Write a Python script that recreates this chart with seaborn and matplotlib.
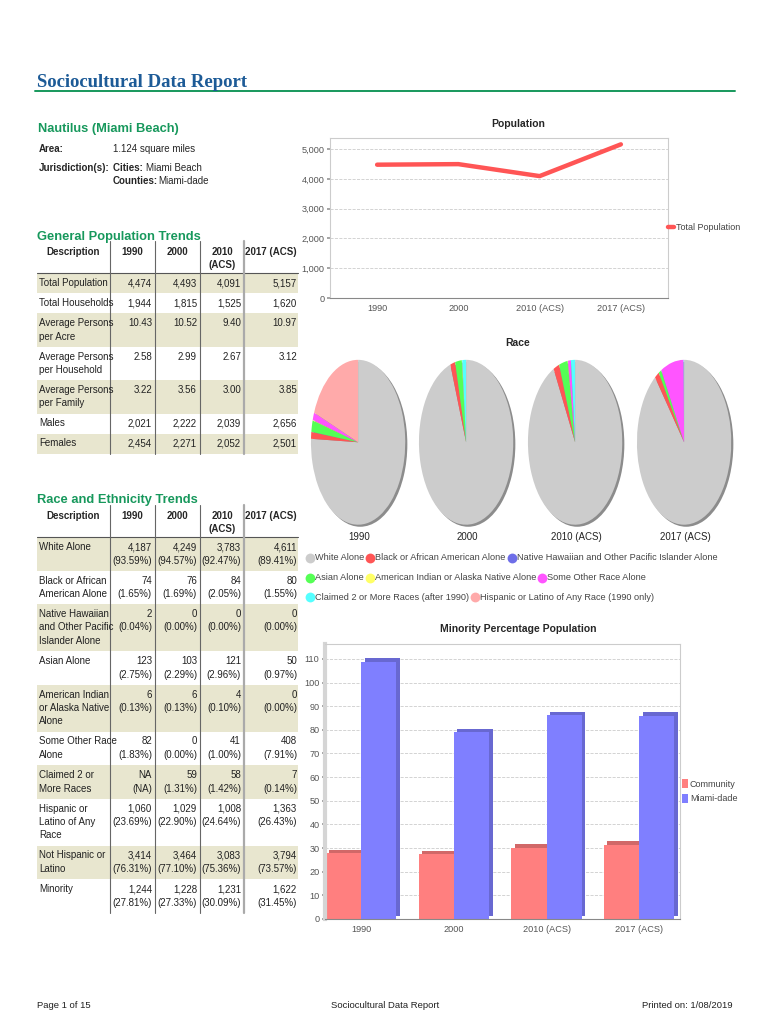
import matplotlib
matplotlib.use('Agg')
import matplotlib.pyplot as plt
import matplotlib.transforms as mtransforms
from matplotlib.patches import Rectangle
from matplotlib.colors import to_rgb
import seaborn as sns
import pandas as pd

sns.set_theme(style='white')
plt.rcParams['font.family'] = ['Liberation Sans', 'DejaVu Sans']

# ---- data ----
years = ["1990", "2000", "2010 (ACS)", "2017 (ACS)"]
table_years = ["1990", "2000", "2010\n(ACS)", "2017 (ACS)"]

gen_labels = ["Total Population", "Total Households", "Average Persons\nper Acre",
              "Average Persons\nper Household", "Average Persons\nper Family", "Males", "Females"]
total_population = [4474, 4493, 4091, 5157]
total_households = [1944, 1815, 1525, 1620]
persons_per_acre = [10.43, 10.52, 9.40, 10.97]
persons_per_household = [2.58, 2.99, 2.67, 3.12]
persons_per_family = [3.22, 3.56, 3.00, 3.85]
males = [2021, 2222, 2039, 2656]
females = [2454, 2271, 2052, 2501]

race_labels = ["White Alone", "Black or African\nAmerican Alone",
               "Native Hawaiian\nand Other Pacific\nIslander Alone", "Asian Alone",
               "American Indian\nor Alaska Native\nAlone", "Some Other Race\nAlone",
               "Claimed 2 or\nMore Races", "Hispanic or\nLatino of Any\nRace",
               "Not Hispanic or\nLatino", "Minority"]
race_counts = [
    [4187, 4249, 3783, 4611],
    [74, 76, 84, 80],
    [2, 0, 0, 0],
    [123, 103, 121, 50],
    [6, 6, 4, 0],
    [82, 0, 41, 408],
    [None, 59, 58, 7],
    [1060, 1029, 1008, 1363],
    [3414, 3464, 3083, 3794],
    [1244, 1228, 1231, 1622],
]
race_pcts = [
    [93.59, 94.57, 92.47, 89.41],
    [1.65, 1.69, 2.05, 1.55],
    [0.04, 0.00, 0.00, 0.00],
    [2.75, 2.29, 2.96, 0.97],
    [0.13, 0.13, 0.10, 0.00],
    [1.83, 0.00, 1.00, 7.91],
    [None, 1.31, 1.42, 0.14],
    [23.69, 22.90, 24.64, 26.43],
    [76.31, 77.10, 75.36, 73.57],
    [27.81, 27.33, 30.09, 31.45],
]

pie_legend = ["White Alone", "Black or African American Alone",
              "Native Hawaiian and Other Pacific Islander Alone", "Asian Alone",
              "American Indian or Alaska Native Alone", "Some Other Race Alone",
              "Claimed 2 or More Races (after 1990)", "Hispanic or Latino of Any Race (1990 only)"]
pie_colors = ["#cccccc", "#ff5555", "#6e6ee8", "#55ff55", "#ffff66", "#ff55ff", "#55ffff", "#ffaaaa"]
hispanic_in_pie = [True, False, False, False]

community_minority = [27.81, 27.33, 30.09, 31.45]
miami_dade_minority = [108.7, 79.0, 86.2, 86.0]

BLUE = "#1d5b97"
GREEN = "#17985c"
BAND = "#e8e6cf"
W, H = 770, 1024

fig = plt.figure(figsize=(7.7, 10.24), dpi=100)
page = fig.add_axes([0, 0, 1, 1])
page.set_xlim(0, W)
page.set_ylim(H, 0)
page.axis('off')


def box(l, t, r, b):
    return fig.add_axes([l / W, 1 - b / H, (r - l) / W, (b - t) / H])


# ---- header ----
page.text(37, 87, "Sociocultural Data Report", family=['Liberation Serif', 'DejaVu Serif'],
          weight='bold', size=13.5, color=BLUE, va='baseline')
page.plot([35, 735], [91, 91], color=GREEN, lw=1.4)
page.text(38, 132, "Nautilus (Miami Beach)", weight='bold', size=9.3, color=GREEN, va='baseline')

fs = 7
page.text(39, 152, "Area:", weight='bold', size=fs, va='baseline')
page.text(113, 152, "1.124 square miles", size=fs, va='baseline')
page.text(39, 171, "Jurisdiction(s):", weight='bold', size=fs, va='baseline')
t = page.text(113, 171, "Cities: ", weight='bold', size=fs, va='baseline')
page.annotate("Miami Beach", xy=(1, 0), xycoords=t, size=fs, va='bottom')
t = page.text(113, 184, "Counties:", weight='bold', size=fs, va='baseline')
page.annotate("Miami-dade", xy=(1, 0), xycoords=t, size=fs, va='bottom')

col_centers = [132, 177, 222, 271]
col_rights = [152, 197, 241, 297]
seps = [110, 155, 199.5]
LINE = 13.5


def put_lines(x, y, txt, **kw):
    # one text per line, fixed line pitch like the report
    for k, ln in enumerate(txt.split('\n')):
        page.text(x, y + LINE * k, ln, va='baseline', size=fs, **kw)


def draw_table(title, title_y, header_top, header_bottom, labels, cells):
    page.text(37, title_y, title, weight='bold', size=9.3, color=GREEN, va='baseline')
    put_lines(73, header_top, "Description", ha='center', weight='bold')
    for cx, yr in zip(col_centers, table_years):
        put_lines(cx, header_top, yr, ha='center', weight='bold')
    y = header_bottom
    for i, (lab, row) in enumerate(zip(labels, cells)):
        n = max([lab.count('\n')] + [c.count('\n') for c in row]) + 1
        h = 6.5 + LINE * n
        if i % 2 == 0:
            page.add_patch(Rectangle((37, y), 261, h, color=BAND, lw=0, zorder=0))
        put_lines(39, y + 13, lab, color='#222')
        for c, xr in zip(row, col_rights):
            put_lines(xr, y + 13, c, ha='right', color='#222')
        y += h
    page.plot([37, 298], [header_bottom, header_bottom], color='#555', lw=0.8)
    for xs in seps:
        page.plot([xs, xs], [header_top - 14, y], color='#666', lw=0.8)
    page.plot([244, 244], [header_top - 14, y], color='#aaaaaa', lw=1.6)


def fmt(v):
    return f"{v:,}" if isinstance(v, int) else f"{v:.2f}"


gen_cells = [[fmt(v) for v in row] for row in
             [total_population, total_households, persons_per_acre, persons_per_household,
              persons_per_family, males, females]]
draw_table("General Population Trends", 240, 255, 273, gen_labels, gen_cells)

race_cells = []
for cnts, pcts in zip(race_counts, race_pcts):
    race_cells.append(["NA\n(NA)" if c is None else f"{c:,}\n({p:.2f}%)" for c, p in zip(cnts, pcts)])
draw_table("Race and Ethnicity Trends", 503, 519, 537, race_labels, race_cells)

# ---- population line chart ----
page.text(518, 124, "Population", ha='center', va='center', weight='bold', size=7.5)
ax = box(330, 138, 668, 298)
sns.lineplot(x=years, y=total_population, ax=ax, color="#ff5555", lw=3.2,
             label="Total Population", sort=False)
ax.set_xlim(-0.58, 3.58)
ax.set_ylim(0, 5370)
ax.set_yticks(range(0, 5001, 1000))
ax.set_yticklabels([f"{v:,}" for v in range(0, 5001, 1000)])
ax.yaxis.grid(True, ls='--', color='#cccccc', lw=0.6)
ax.legend(loc='center left', bbox_to_anchor=(1.0, 0.44), frameon=False, handlelength=0.7,
          handletextpad=0.15, borderpad=0, borderaxespad=0, prop={'size': 6.5})
for t in ax.get_legend().get_texts():
    t.set_color('#444')

# ---- race pies ----
page.text(518, 343, "Race", ha='center', va='center', weight='bold', size=7.5)
pie_centers = [359, 467, 576, 685]
for k, (cx, yr) in enumerate(zip(pie_centers, years)):
    vals = []
    for j in range(8):
        p = race_pcts[j][k]
        if j == 7 and not hispanic_in_pie[k]:
            p = 0
        vals.append(0 if p is None else p)
    pa = box(cx - 49, 359, cx + 50, 528)
    pa.pie([1], colors=['#8c8c8c'], radius=1.0, center=(0.045, -0.025), wedgeprops={'lw': 0})
    pa.pie(vals, colors=pie_colors, startangle=90, counterclock=False, radius=1.0,
           wedgeprops={'lw': 0})
    pa.set_aspect('auto')
    pa.set_xlim(-1.02, 1.08)
    pa.set_ylim(-1.04, 1.01)
    pa.axis('off')
    page.text(cx, 537, yr, ha='center', va='center', size=7, color='#222')

fig.canvas.draw()
renderer = fig.canvas.get_renderer()
legend_rows = [[0, 1, 2], [3, 4, 5], [6, 7]]
for r, idxs in enumerate(legend_rows):
    y = 558 + 19.5 * r
    x = 310
    for j in idxs:
        page.scatter([x], [y], s=50, color=pie_colors[j], lw=0, zorder=3)
        tt = page.text(x + 5, y, pie_legend[j], va='center', size=6.6, color='#444')
        bb = tt.get_window_extent(renderer)
        x = bb.x1 + 6

# ---- minority bar chart ----
page.text(518, 629, "Minority Percentage Population", ha='center', va='center', weight='bold', size=7.5)
bx = box(325, 644, 680, 919)
mdf = pd.DataFrame({
    "Year": years * 2,
    "Series": ["Community"] * 4 + ["Miami-dade"] * 4,
    "Value": community_minority + miami_dade_minority,
})
sns.barplot(data=mdf, x="Year", y="Value", hue="Series", palette=["#ff7f7f", "#7f7fff"],
            saturation=1, width=0.76, gap=0, ax=bx, legend=True, linewidth=0)
shift = mtransforms.ScaledTranslation(0.035, 0.035, fig.dpi_scale_trans)
for p in list(bx.patches):
    if p.get_height() <= 0:
        continue
    dark = tuple(c * 0.82 for c in to_rgb(p.get_facecolor()))
    bx.add_patch(Rectangle(p.get_xy(), p.get_width(), p.get_height(), facecolor=dark, lw=0,
                           transform=bx.transData + shift, zorder=p.get_zorder() - 0.1))
bx.set_xlim(-0.39, 3.44)
bx.set_ylim(0, 116.3)
bx.set_yticks(range(0, 111, 10))
bx.set_xlabel("")
bx.set_ylabel("")
bx.yaxis.grid(True, ls='--', color='#cccccc', lw=0.6)
bx.set_axisbelow(True)
bx.legend(loc='center left', bbox_to_anchor=(1.0, 0.465), frameon=False, handlelength=0.7,
          handleheight=1.2, handletextpad=0.2, borderpad=0, borderaxespad=0.2,
          labelspacing=0.55, prop={'size': 6.5}, title=None)
for t in bx.get_legend().get_texts():
    t.set_color('#444')

for a in [ax, bx]:
    for s in a.spines.values():
        s.set_color('#cccccc')
        s.set_linewidth(0.8)
    a.spines['bottom'].set_color('#888888')
    a.tick_params(axis='both', labelsize=6.6, colors='#555555', length=2, pad=2)
    a.tick_params(axis='y', left=True, color='#999999')
bx.spines['left'].set_color('#d5d5d5')
bx.spines['left'].set_linewidth(3)

# ---- footer ----
page.text(37, 1005, "Page 1 of 15", va='center', size=6.8, color='#222')
page.text(385, 1005, "Sociocultural Data Report", ha='center', va='center', size=6.8, color='#222')
page.text(733, 1005, "Printed on: 1/08/2019", ha='right', va='center', size=6.8, color='#222')

fig.savefig("out.png", dpi=100)
